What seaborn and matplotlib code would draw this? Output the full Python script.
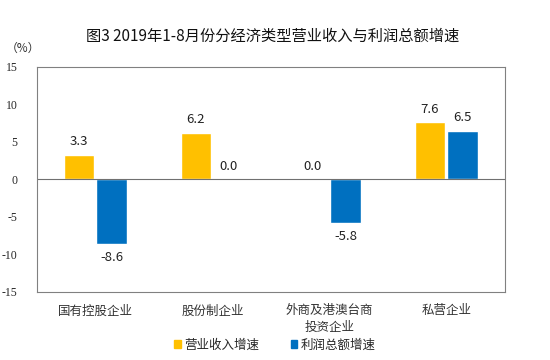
import matplotlib
matplotlib.use("Agg")
import matplotlib.pyplot as plt
import numpy as np
import pandas as pd
import seaborn as sns

categories = ["国有控股企业", "股份制企业", "外商及港澳台商\n投资企业", "私营企业"]
series_names = ["营业收入增速", "利润总额增速"]
revenue_growth = [3.3, 6.2, 0.0, 7.6]
profit_growth = [-8.6, 0.0, -5.8, 6.5]
y_ticks = [-15, -10, -5, 0, 5, 10, 15]
colors = ["#FFC000", "#0070C0"]

sns.set_theme(style="white")
plt.rcParams["font.family"] = ["Noto Sans CJK SC", "DejaVu Sans"]

df = pd.DataFrame({
    "category": categories * 2,
    "series": [series_names[0]] * 4 + [series_names[1]] * 4,
    "value": revenue_growth + profit_growth,
})

fig = plt.figure(figsize=(5.5, 3.6), dpi=100)
ax = fig.add_axes([0.067, 0.189, 0.851, 0.625])

sns.barplot(data=df, x="category", y="value", hue="series", palette=colors,
            width=0.56, gap=0.06, ax=ax, legend=False, saturation=1)

ax.set_ylim(-15, 15)
ax.set_yticks(y_ticks)
ax.set_yticklabels([str(t) for t in y_ticks], family="Liberation Serif",
                   fontsize=8.5)
ax.axhline(0, color="#707070", lw=0.8)
ax.tick_params(axis="both", length=0)
ax.tick_params(axis="y", pad=14)
ax.tick_params(axis="x", pad=9, labelsize=9)
for lbl in ax.get_xticklabels():
    lbl.set_linespacing(1.3)
    lbl.set_color("#333333")
ax.set_xlabel("")
ax.set_ylabel("")
for s in ax.spines.values():
    s.set_color("#808080")
    s.set_linewidth(0.8)

for cont in ax.containers:
    for bar in cont:
        v = bar.get_height()
        x = bar.get_x() + bar.get_width() / 2
        if v >= 0:
            ax.annotate(f"{v:.1f}", (x, v), xytext=(0, 5), textcoords="offset points",
                        ha="center", va="bottom", fontsize=9.5, color="#222222")
        else:
            ax.annotate(f"{v:.1f}", (x, v), xytext=(0, -5), textcoords="offset points",
                        ha="center", va="top", fontsize=9.5, color="#222222")

fig.text(0.495, 0.9, "图3 2019年1-8月份分经济类型营业收入与利润总额增速",
         ha="center", va="center", fontsize=11, color="#111111")
fig.text(0.01, 0.865, "（%）", ha="left", va="center", fontsize=8.5, color="#333333")

handles = [plt.Rectangle((0, 0), 1, 1, color=c) for c in colors]
fig.legend(handles, series_names, loc="center", bbox_to_anchor=(0.5, 0.042), ncol=2,
           frameon=False, fontsize=9, handlelength=0.5, handleheight=0.5,
           columnspacing=2.5, handletextpad=0.3)

fig.savefig("out.png", dpi=100)
